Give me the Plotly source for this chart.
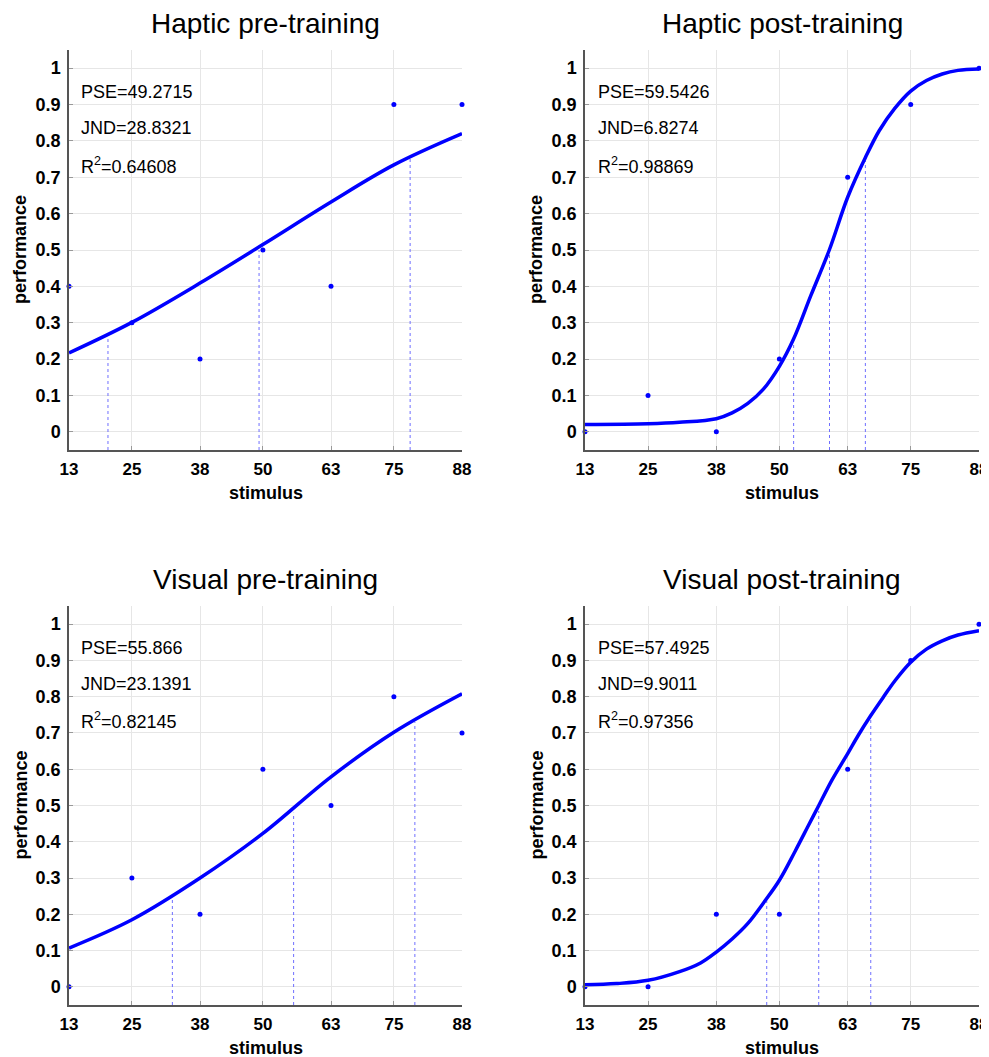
import plotly.graph_objects as go

# ---------------- data ----------------
stim_ticks = [13, 25, 38, 50, 63, 75, 88]
perf_ticks = [0, 0.1, 0.2, 0.3, 0.4, 0.5, 0.6, 0.7, 0.8, 0.9, 1]
perf_labels = ["0", "0.1", "0.2", "0.3", "0.4", "0.5", "0.6", "0.7", "0.8", "0.9", "1"]

titles = ["Haptic pre-training", "Haptic post-training", "Visual pre-training", "Visual post-training"]

# observed points
hp_pre_x = [13, 25, 38, 50, 63, 75, 88]
hp_pre_y = [0.4, 0.3, 0.2, 0.5, 0.4, 0.9, 0.9]
hp_post_x = [13, 25, 38, 50, 63, 75, 88]
hp_post_y = [0.0, 0.1, 0.0, 0.2, 0.7, 0.9, 1.0]
vi_pre_x = [13, 25, 38, 50, 63, 75, 88]
vi_pre_y = [0.0, 0.3, 0.2, 0.6, 0.5, 0.8, 0.7]
vi_post_x = [13, 25, 38, 50, 63, 75, 88]
vi_post_y = [0.0, 0.0, 0.2, 0.2, 0.6, 0.9, 1.0]

# fitted curves
hp_pre_cx = [13, 25, 38, 50, 63, 75, 88]
hp_pre_cy = [0.217, 0.301, 0.409, 0.515, 0.632, 0.734, 0.820]
hp_post_cx = [13, 25, 31, 38, 41, 44, 47, 50, 52.7, 56, 59.5, 63, 66.4, 69, 72, 75, 78, 81, 84, 88]
hp_post_cy = [0.020, 0.022, 0.026, 0.036, 0.052, 0.078, 0.118, 0.180, 0.255, 0.375, 0.500,
              0.645, 0.755, 0.828, 0.890, 0.937, 0.966, 0.984, 0.994, 0.998]
vi_pre_cx = [13, 25, 38, 50, 63, 75, 88]
vi_pre_cy = [0.107, 0.185, 0.300, 0.423, 0.579, 0.702, 0.808]
vi_post_cx = [13, 19, 25, 31, 35, 38, 41, 44, 47, 50, 53, 55.5, 57.5, 60, 63, 65, 67.4,
              70, 72, 75, 78, 81, 84, 88]
vi_post_cy = [0.006, 0.009, 0.018, 0.042, 0.066, 0.096, 0.132, 0.175, 0.232, 0.294, 0.374,
              0.444, 0.500, 0.570, 0.643, 0.693, 0.748, 0.803, 0.844, 0.895, 0.931, 0.954,
              0.970, 0.982]

pse = [49.2715, 59.5426, 55.866, 57.4925]
jnd = [28.8321, 6.8274, 23.1391, 9.9011]
r2 = ["0.64608", "0.98869", "0.82145", "0.97356"]
# heights reached by the dotted guide lines (PSE-JND, PSE, PSE+JND)
guide_tops = [[0.255, 0.50, 0.752], [0.245, 0.49, 0.745], [0.240, 0.48, 0.730], [0.240, 0.485, 0.738]]

points = [(hp_pre_x, hp_pre_y), (hp_post_x, hp_post_y), (vi_pre_x, vi_pre_y), (vi_post_x, vi_post_y)]
curves = [(hp_pre_cx, hp_pre_cy), (hp_post_cx, hp_post_cy), (vi_pre_cx, vi_pre_cy), (vi_post_cx, vi_post_cy)]

# ---------------- layout ----------------
OFF = 8                      # page body margin of the browser
W, H = 989 - OFF, 1057 - OFF
xdoms = [(69 - OFF, 462 - OFF), (585 - OFF, 979 - OFF)]
ydoms = [(50 - OFF, 450 - OFF), (606 - OFF, 1005 - OFF)]   # top px, bottom px

BLUE = "#0000ff"
FONT = "Liberation Sans, Arial, Helvetica, sans-serif"

fig = go.Figure()
annotations = []
layout = dict(
    template="none",
    width=W, height=H, margin=dict(l=0, r=0, t=0, b=0, pad=0), autosize=False,
    paper_bgcolor="white", plot_bgcolor="white", showlegend=False,
    font=dict(family=FONT, color="black"),
)

for i in range(4):
    r, c = divmod(i, 2)
    xa = "x" if i == 0 else f"x{i+1}"
    ya = "y" if i == 0 else f"y{i+1}"
    xl = xa.replace("x", "xaxis")
    yl = ya.replace("y", "yaxis")
    x0, x1 = xdoms[c]
    top, bot = ydoms[r]
    common = dict(
        showgrid=True, gridcolor="#e6e6e6", gridwidth=1,
        showline=True, linecolor="#555555", linewidth=1.5,
        ticks="inside", ticklen=4, tickcolor="#999999",
        zeroline=False, automargin=False, mirror=False,
        ticklabeloverflow="allow",
    )
    layout[xl] = dict(
        domain=[x0 / W, x1 / W], anchor=ya, range=[13, 88],
        tickvals=stim_ticks, ticktext=[str(t) for t in stim_ticks],
        tickfont=dict(size=17, family=FONT, color="black", weight="bold"),
        ticklabelstandoff=3, **common,
    )
    layout[yl] = dict(
        domain=[1 - bot / H, 1 - top / H], anchor=xa, range=[-0.05, 1.05],
        tickvals=perf_ticks, ticktext=perf_labels,
        tickfont=dict(size=18, family=FONT, color="black", weight="bold"),
        ticklabelstandoff=3, **common,
    )

    # guide lines
    gx = [pse[i] - jnd[i], pse[i], pse[i] + jnd[i]]
    for k in range(3):
        fig.add_trace(go.Scatter(
            x=[gx[k], gx[k]], y=[-0.05, guide_tops[i][k]], mode="lines",
            line=dict(color="#6f6fff", width=1, dash="dot"),
            xaxis=xa, yaxis=ya, hoverinfo="skip"))

    cx, cy = curves[i]
    fig.add_trace(go.Scatter(
        x=cx, y=cy, mode="lines", line=dict(color=BLUE, width=3.5, shape="spline", smoothing=1.0),
        xaxis=xa, yaxis=ya))

    px_, py_ = points[i]
    fig.add_trace(go.Scatter(
        x=px_, y=py_, mode="markers", marker=dict(color=BLUE, size=5),
        xaxis=xa, yaxis=ya, cliponaxis=False))

    # statistics text
    stats = [f"PSE={pse[i]:g}", f"JND={jnd[i]:g}", f"R<sup>2</sup>={r2[i]}"]
    for k, (txt, yv) in enumerate(zip(stats, [0.935, 0.835, 0.733])):
        annotations.append(dict(
            x=15.0, y=yv, xref=xa, yref=ya, text=txt, showarrow=False,
            xanchor="left", yanchor="middle",
            font=dict(size=18, family=FONT, color="black")))

    # panel title
    annotations.append(dict(
        x=(x0 + x1) / 2 / W, y=1 - (top - 27) / H, xref="paper", yref="paper",
        text=titles[i], showarrow=False, xanchor="center", yanchor="middle",
        font=dict(size=28, family=FONT, color="black")))
    # x title
    annotations.append(dict(
        x=(x0 + x1) / 2 / W, y=1 - (bot + 43) / H, xref="paper", yref="paper",
        text="stimulus", showarrow=False, xanchor="center", yanchor="middle",
        font=dict(size=18, family=FONT, color="black", weight="bold")))
    # y title
    annotations.append(dict(
        x=(x0 - 49) / W, y=1 - (top + bot) / 2 / H, xref="paper", yref="paper",
        text="performance", showarrow=False, textangle=-90,
        xanchor="center", yanchor="middle",
        font=dict(size=18, family=FONT, color="black", weight="bold")))

layout["annotations"] = annotations
fig.update_layout(**layout)
fig.write_html("out.html")
